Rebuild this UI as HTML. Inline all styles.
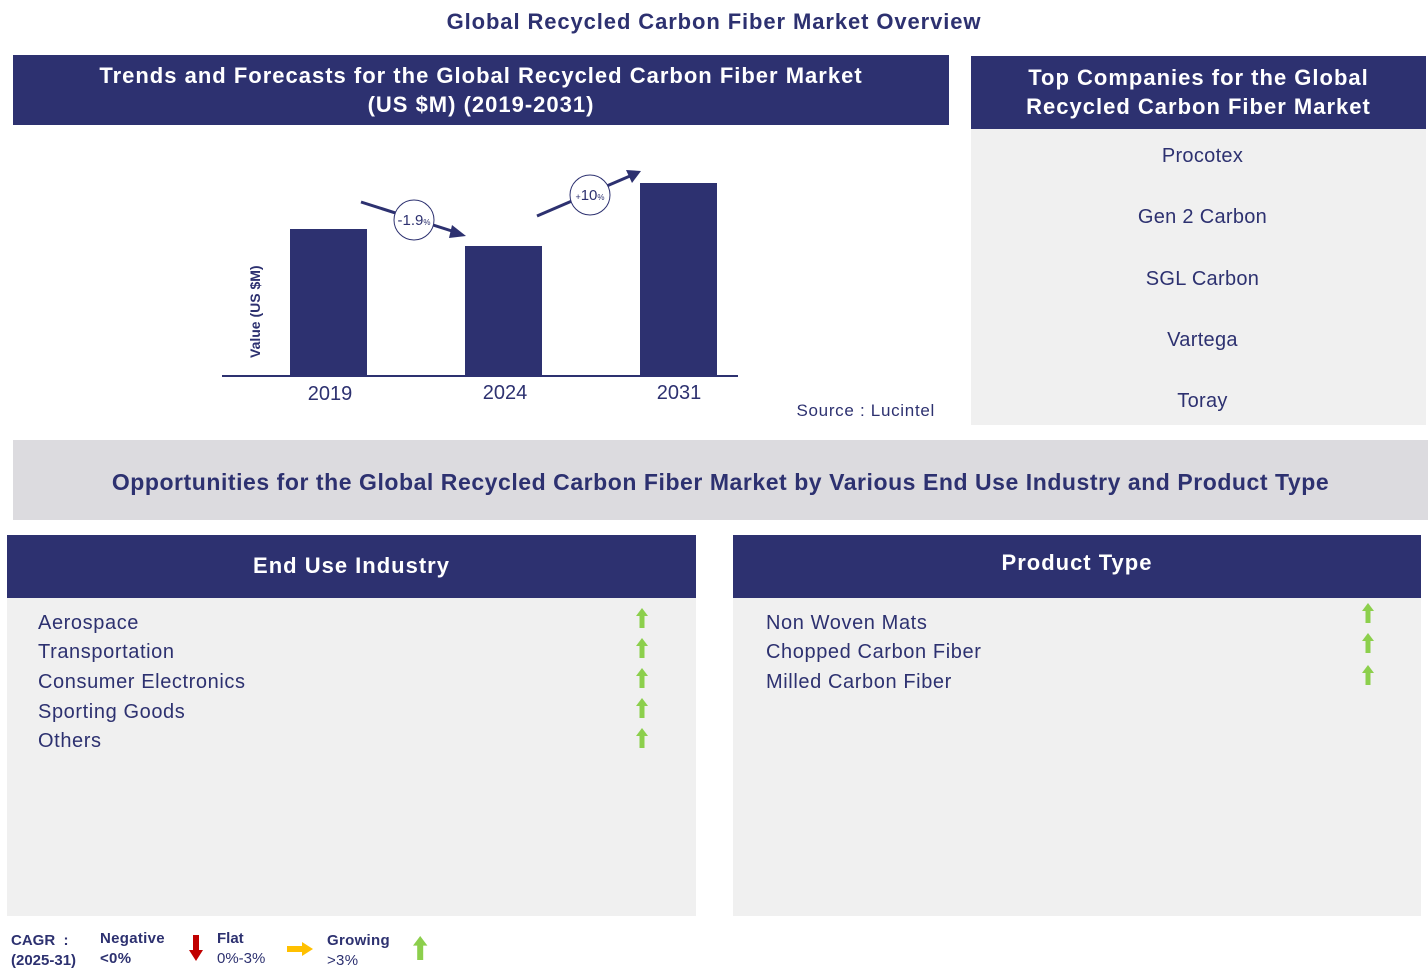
<!DOCTYPE html>
<html><head><meta charset="utf-8"><style>
body{margin:0;width:1428px;height:979px;background:#fff;font-family:"Liberation Sans",Arial,sans-serif;position:relative;overflow:hidden;color:#2d3170}
.a{position:absolute}
.hdr{background:#2d3170;color:#fff;font-weight:bold;text-align:center;letter-spacing:1px}
.it{position:absolute;font-size:20px;color:#2d3170;letter-spacing:0.6px}
.co{position:absolute;left:975px;width:455px;text-align:center;font-size:20px;letter-spacing:0.3px}
</style></head><body>
<div class="a" style="left:0;width:1428px;top:9px;text-align:center;font-size:22px;font-weight:bold;letter-spacing:0.9px">Global Recycled Carbon Fiber Market Overview</div>
<div class="a hdr" style="left:13px;top:55px;width:936px;height:70px;font-size:22px;line-height:29px;padding-top:6px;box-sizing:border-box">Trends and Forecasts for the Global Recycled Carbon Fiber Market<br>(US $M) (2019-2031)</div>
<div class="a hdr" style="left:971px;top:56px;width:455px;height:73px;font-size:22px;line-height:29px;padding-top:7px;box-sizing:border-box">Top Companies for the Global<br>Recycled Carbon Fiber Market</div>
<div class="a" style="left:971px;top:129px;width:455px;height:296px;background:#f0f0f0"></div>
<div class="co" style="top:145px">Procotex</div>
<div class="co" style="top:206px">Gen 2 Carbon</div>
<div class="co" style="top:268px">SGL Carbon</div>
<div class="co" style="top:329px">Vartega</div>
<div class="co" style="top:390px">Toray</div>
<svg class="a" style="left:0;top:0" width="960" height="430">
<rect x="290" y="229" width="77" height="147" fill="#2d3170"/>
<rect x="465" y="246" width="77" height="130" fill="#2d3170"/>
<rect x="640" y="183" width="77" height="193" fill="#2d3170"/>
<line x1="222" y1="376" x2="738" y2="376" stroke="#2d3170" stroke-width="2"/>
<text x="330" y="400" font-size="20" fill="#2d3170" text-anchor="middle" font-family="Liberation Sans">2019</text>
<text x="505" y="399" font-size="20" fill="#2d3170" text-anchor="middle" font-family="Liberation Sans">2024</text>
<text x="679" y="399" font-size="20" fill="#2d3170" text-anchor="middle" font-family="Liberation Sans">2031</text>
<text transform="translate(260,358) rotate(-90)" font-size="14" font-weight="bold" fill="#2d3170" font-family="Liberation Sans">Value (US $M)</text>
<line x1="361" y1="202" x2="455" y2="232" stroke="#2d3170" stroke-width="3"/>
<polygon points="466,236 452,225 449,238" fill="#2d3170"/>
<line x1="537" y1="216" x2="630" y2="176" stroke="#2d3170" stroke-width="3"/>
<polygon points="641,171 626,170 632,183" fill="#2d3170"/>
<circle cx="414" cy="220" r="20" fill="#fff" stroke="#2d3170"/>
<text x="414" y="225" font-size="15" fill="#2d3170" text-anchor="middle" font-family="Liberation Sans">-1.9<tspan font-size="8">%</tspan></text>
<circle cx="590" cy="195" r="20" fill="#fff" stroke="#2d3170"/>
<text x="590" y="200" font-size="15" fill="#2d3170" text-anchor="middle" font-family="Liberation Sans"><tspan font-size="9">+</tspan>10<tspan font-size="8">%</tspan></text>
<text x="935" y="416" font-size="17" fill="#2d3170" text-anchor="end" font-family="Liberation Sans" letter-spacing="0.7">Source : Lucintel</text>
</svg>
<div class="a" style="left:13px;top:440px;width:1415px;height:80px;background:#dcdbdf;text-align:center;line-height:84px;font-size:23px;font-weight:bold;letter-spacing:0.55px">Opportunities for the Global Recycled Carbon Fiber Market by Various End Use Industry and Product Type</div>
<div class="a hdr" style="left:7px;top:535px;width:689px;height:63px;line-height:62px;font-size:22px">End Use Industry</div>
<div class="a" style="left:7px;top:598px;width:689px;height:318px;background:#f0f0f0"></div>
<div class="a hdr" style="left:733px;top:535px;width:688px;height:63px;line-height:56px;font-size:22px">Product Type</div>
<div class="a" style="left:733px;top:598px;width:688px;height:318px;background:#f0f0f0"></div>
<div class="it" style="left:38px;top:612px">Aerospace</div>
<div class="it" style="left:38px;top:641px">Transportation</div>
<div class="it" style="left:38px;top:671px">Consumer Electronics</div>
<div class="it" style="left:38px;top:701px">Sporting Goods</div>
<div class="it" style="left:38px;top:730px">Others</div>
<div class="it" style="left:766px;top:612px">Non Woven Mats</div>
<div class="it" style="left:766px;top:641px">Chopped Carbon Fiber</div>
<div class="it" style="left:766px;top:671px">Milled Carbon Fiber</div>
<svg class="a" style="left:0;top:0" width="1428" height="979">
<defs><g id="up"><polygon points="6,0 12,8 8.5,8 8.5,20 3.5,20 3.5,8 0,8" fill="#8ccf4c"/></g></defs>
<use href="#up" x="636" y="608"/><use href="#up" x="636" y="638"/><use href="#up" x="636" y="668"/><use href="#up" x="636" y="698"/><use href="#up" x="636" y="728"/>
<use href="#up" x="1362" y="603"/><use href="#up" x="1362" y="633"/><use href="#up" x="1362" y="665"/>
<g transform="translate(413,936) scale(1.2)"><use href="#up"/></g>
<polygon points="193,935 199,935 199,950 203,950 196,961 189,950 193,950" fill="#c00000"/>
<polygon points="287,946 302,946 302,942 313,949 302,956 302,952 287,952" fill="#ffc000"/>
</svg>
<div class="a" style="left:11px;top:931px;font-size:15px;font-weight:bold;line-height:20px">CAGR &nbsp;:<br>(2025-31)</div>
<div class="a" style="left:100px;top:929px;font-size:15px;font-weight:bold;line-height:20px;letter-spacing:0.3px">Negative<br>&lt;0%</div>
<div class="a" style="left:217px;top:929px;font-size:15px;line-height:20px"><b>Flat</b><br>0%-3%</div>
<div class="a" style="left:327px;top:931px;font-size:15px;line-height:20px;letter-spacing:0.3px"><b>Growing</b><br>&gt;3%</div>
</body></html>
